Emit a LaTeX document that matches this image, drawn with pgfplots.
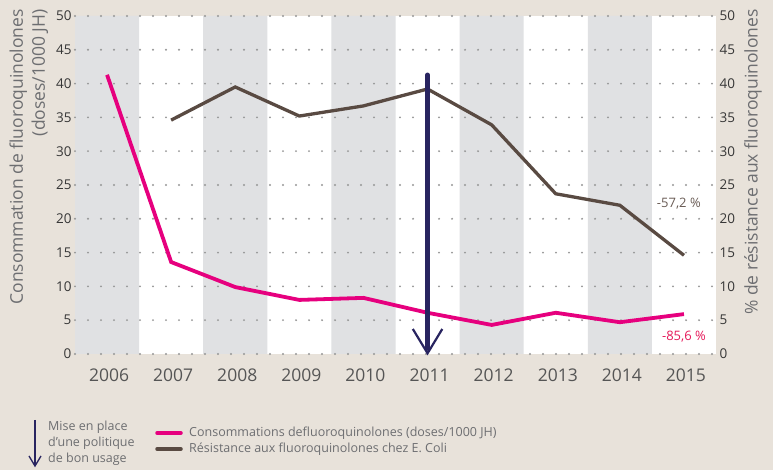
\documentclass[border=0pt]{standalone}
\usepackage{pgfplots}
\pgfplotsset{compat=1.18}
\usepackage{fontspec}
\setmainfont{Open Sans}
\definecolor{bg}{RGB}{232,226,218}
\definecolor{band}{RGB}{224,225,227}
\definecolor{pinkc}{RGB}{230,0,126}
\definecolor{brownc}{RGB}{89,74,66}
\definecolor{navy}{RGB}{40,36,96}
\definecolor{labgray}{RGB}{109,110,113}
\definecolor{tickc}{RGB}{55,55,55}
\definecolor{dotc}{RGB}{150,150,150}
\definecolor{redc}{RGB}{230,25,90}
\pgfplotsset{base/.style={at={(75pt,116pt)}, anchor=south west,
  scale only axis, width=641pt, height=338pt,
  xmin=-0.5, xmax=9.5, ymin=0, ymax=50,
  /pgf/number format/assume math mode=true,
  axis line style={draw=none}, tick style={draw=none}}}
\begin{document}
\begin{tikzpicture}
\fill[bg] (0,0) rectangle (773pt,470pt);
\useasboundingbox (0,0) rectangle (773pt,470pt);
\begin{axis}[base, hide axis, axis background/.style={fill=white}]
\addplot[fill=band, draw=none] coordinates {(-0.5,0)(0.5,0)(0.5,50)(-0.5,50)(-0.5,0)};
\addplot[fill=band, draw=none] coordinates {(1.5,0)(2.5,0)(2.5,50)(1.5,50)(1.5,0)};
\addplot[fill=band, draw=none] coordinates {(3.5,0)(4.5,0)(4.5,50)(3.5,50)(3.5,0)};
\addplot[fill=band, draw=none] coordinates {(5.5,0)(6.5,0)(6.5,50)(5.5,50)(5.5,0)};
\addplot[fill=band, draw=none] coordinates {(7.5,0)(8.5,0)(8.5,50)(7.5,50)(7.5,0)};
\end{axis}
\begin{axis}[base,
  xtick={0,...,9},
  xticklabels={2006,2007,2008,2009,2010,2011,2012,2013,2014,2015},
  xticklabel style={font=\fontsize{17.5}{18}\selectfont, text=tickc!85, yshift=-11pt, xshift=2pt},
  ytick={0,5,...,50},
  yticklabel style={font=\fontsize{13.5}{13.5}\selectfont, text=tickc},
  ymajorgrids,
  major grid style={draw=dotc, line width=2.1pt, line cap=round, dash pattern=on 0pt off 13pt},
  ylabel={Consommation de fluoroquinolones\\(doses/1000 JH)},
  ylabel style={at={(axis description cs:-0.072,0.583)}, anchor=center, align=right,
    font=\fontsize{17.5}{22}\selectfont, text=labgray},
  clip=false,
]
% resistance
\addplot[brownc, line width=3.3pt, no marks] coordinates {
(1,34.6)(2,39.5)(3,35.2)(4,36.7)(5,39.2)(6,33.9)(7,23.7)(8,22.0)(9,14.6)};
% consumption
\addplot[pinkc, line width=3.8pt, no marks] coordinates {
(0,41.3)(1,13.6)(2,9.9)(3,8.0)(4,8.3)(5,6.1)(6,4.3)(7,6.1)(8,4.7)(9,5.9)};
% arrow
\draw[navy, line width=4.5pt, line cap=round] (axis cs:5,41.3) -- (axis cs:5,0.8);
\draw[navy, line width=2.2pt, line join=miter] (axis cs:4.77,3.7) -- (axis cs:5,0.1) -- (axis cs:5.23,3.7);
\node[text=brownc!90, font=\fontsize{13}{13}\selectfont] at (axis cs:8.92,22.3) {-57,2 \%};
\node[text=redc, font=\fontsize{13}{13}\selectfont] at (axis cs:9.0,2.5) {-85,6 \%};
\end{axis}
\begin{axis}[base,
  axis y line*=right, hide x axis,
  ytick={0,5,...,50},
  yticklabel style={font=\fontsize{13.5}{13.5}\selectfont, text=tickc},
  ylabel={\% de résistance aux fluoroquinolones},
  ylabel style={at={(axis description cs:1.0577,0.568)}, anchor=center, rotate=0,
    font=\fontsize{17.5}{22}\selectfont, text=labgray},
]
\addplot[draw=none] coordinates {(0,0)(9,50)};
\end{axis}
% legend
\draw[navy, line width=1.3pt] (35pt,470pt-420pt) -- (35pt,470pt-465pt);
\draw[navy, line width=1.3pt] (29pt,470pt-456pt) -- (35pt,470pt-466pt) -- (41pt,470pt-456pt);
\node[anchor=north west, align=left, text=labgray, font=\fontsize{12.5}{16}\selectfont, inner sep=0pt] at (48pt,470pt-421pt) {Mise en place\\d'une politique\\de bon usage};
\draw[pinkc, line width=3.5pt, line cap=round] (157pt,470pt-433pt) -- (181pt,470pt-433pt);
\draw[brownc, line width=3.5pt, line cap=round] (157pt,470pt-449pt) -- (181pt,470pt-449pt);
\node[anchor=west, text=labgray, font=\fontsize{12.5}{14}\selectfont, inner sep=0pt] at (189pt,470pt-433pt) {Consommations defluoroquinolones (doses/1000 JH)};
\node[anchor=west, text=labgray, font=\fontsize{12.5}{14}\selectfont, inner sep=0pt] at (189pt,470pt-449pt) {Résistance aux fluoroquinolones chez E. Coli};
\end{tikzpicture}
\end{document}
